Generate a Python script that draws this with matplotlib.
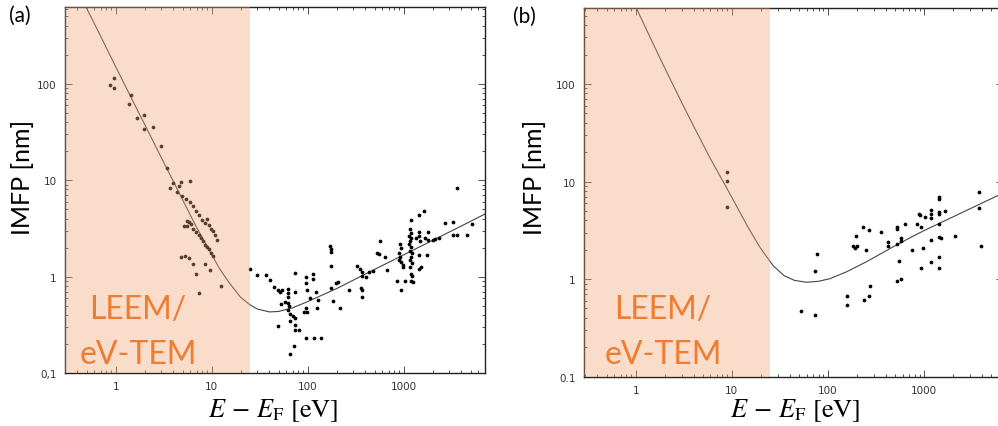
import matplotlib.pyplot as plt
from matplotlib.ticker import FixedLocator, FixedFormatter, LogLocator, NullFormatter

# ---- data ----
# panel (a): elements
curve_a_E = [0.45, 0.6, 0.8, 1, 1.5, 2, 3, 5, 7, 10, 12, 15, 20, 25, 30, 40, 50, 70,
             100, 150, 200, 300, 500, 1000, 2000, 4000, 7500]
curve_a_L = [740, 420, 235, 150, 67, 38, 17, 6.2, 3.2, 1.7, 1.22, 0.88, 0.61, 0.51, 0.46,
             0.43, 0.435, 0.475, 0.55, 0.66, 0.75, 0.92, 1.19, 1.68, 2.37, 3.35, 4.6]

pts_a_E = [0.96, 0.87, 0.97, 1.45, 1.36, 1.96, 1.67, 1.97, 2.47, 2.94, 3.4, 3.95, 3.65,
           4.53, 4.82, 5.9,
           4.39, 4.9, 5.4, 5.94, 6.44, 6.87, 7.4, 7.9, 8.45, 9.0, 9.3, 9.77, 10.2, 10.7, 11.4,
           5.5, 5.76, 6.13, 5.15, 5.5, 6.44, 6.87, 7.33, 7.8, 8.18, 8.58, 9.0, 9.44, 9.9, 10.4,
           4.82, 5.31, 5.85, 6.34, 8.58, 9.6, 6.81, 12.4, 7.4,
           24.9, 29.6, 36.5, 40.8, 44.9, 49.4, 51.8, 54.4, 62.8, 62.8, 73.8, 73.8, 61.7, 58,
           52.7, 62.8, 63.8, 62.8, 65.9, 70.3, 73.8, 64.9, 49.4, 73.8, 73.8, 81.1, 95.3, 115,
           138, 71.5, 64.9, 95.3, 113.6, 113.6, 95.3, 98.4, 123, 106, 95.3, 98.4, 92.2, 125,
           127, 172, 175, 175, 175, 175, 183, 195, 205, 217, 269, 324, 351, 365, 371, 359,
           365, 365, 402, 435, 479,
           566, 531, 557, 643, 665, 859, 1024, 945, 915, 929, 887, 915, 902, 945, 977, 991,
           1164, 1183, 1144, 1203, 1164, 1127, 1183, 1164, 1222, 1183, 1164, 1222, 1164, 1183,
           1222, 1183, 1259, 1203, 1433, 1626, 1455, 1455, 1343, 1479, 1679, 1791, 1791, 1433,
           1762, 1503, 1433, 2004, 2133, 2316, 2716, 3240, 3290, 3616, 4600, 5145, 3565]
pts_a_L = [114, 98, 89.6, 75.8, 62, 47, 43.7, 34.2, 35.8, 22.4, 13.5, 9.4, 8.3,
           8.6, 9.5, 9.9,
           7.58, 6.9, 6.4, 5.97, 5.37, 4.81, 4.3, 3.84, 3.61, 3.98, 3.39, 3.15, 2.95, 2.71, 2.42,
           3.75, 3.66, 3.55, 3.38, 3.33, 3.13, 2.93, 2.73, 2.52, 2.33, 2.15, 2.03, 1.91, 1.76, 1.65,
           1.6, 1.65, 1.55, 1.36, 1.36, 1.16, 1.07, 0.79, 0.68,
           1.2, 1.04, 1.04, 0.93, 0.78, 0.73, 0.69, 0.72, 0.745, 0.68, 0.69, 1.09, 0.615, 0.55,
           0.52, 0.533, 0.49, 0.447, 0.413, 0.394, 0.369, 0.347, 0.31, 0.318, 0.28, 0.277, 0.23, 0.23,
           0.23, 0.189, 0.157, 1.0, 1.07, 0.95, 0.85, 0.72, 0.69, 0.605, 0.47, 0.426, 0.426, 0.47,
           0.577, 2.06, 1.94, 1.79, 1.28, 0.76, 0.563, 0.86, 0.88, 0.47, 0.73, 1.3, 1.2, 1.11, 1.02, 0.76,
           0.72, 0.62, 1.0, 1.11, 1.15,
           2.33, 1.76, 1.73, 1.6, 1.18, 0.89, 0.89, 0.72, 2.2, 1.97, 1.76, 1.6, 1.48, 1.41, 1.32, 1.26,
           3.08, 2.84, 2.62, 2.5, 2.35, 2.2, 2.03, 1.85, 1.76, 1.6, 1.48, 1.39, 1.26, 1.07,
           1.02, 0.89, 0.87, 3.9, 4.37, 4.81, 2.88, 2.62, 2.52, 2.33, 2.52, 2.88, 2.38, 1.68,
           1.69, 1.26, 1.2, 2.42, 2.46, 2.52, 3.61, 3.72, 2.71, 2.67, 2.71, 3.55, 8.34]

# panel (b): inorganic compounds
curve_b_E = [0.97, 1.5, 2, 3, 4.3, 6, 8.85, 12, 15, 20, 27, 35, 45, 60, 80, 105, 157,
             250, 348, 540, 774, 1000, 1422, 2000, 3000, 4000, 5900, 7000]
curve_b_L = [660, 265, 147, 65, 32.3, 17.1, 8.6, 4.95, 3.31, 2.06, 1.37, 1.085, 0.97,
             0.928, 0.95, 1.01, 1.19, 1.5, 1.8, 2.29, 2.76, 3.14, 3.7, 4.34, 5.25, 6.0,
             7.2, 7.8]

pts_b_E = [8.85, 8.85, 8.85,
           76.4, 74, 52, 74, 196, 233, 266, 184, 193, 199, 249, 159, 157, 274, 270, 237,
           359, 422, 422, 528, 520, 528, 572, 572, 630, 839, 881, 909, 750, 545, 572, 520,
           938, 1016, 984, 938, 1191, 1191, 1191, 1191, 1191, 1422, 1422, 1422, 1422, 1422,
           1422, 1492, 1422, 1422, 1667, 2086, 3707, 3707, 3948]
pts_b_L = [12.4, 10.2, 5.5,
           1.79, 1.2, 0.474, 0.43, 2.78, 3.39, 3.18, 2.17, 2.1, 2.17, 1.98, 0.665, 0.546, 0.85,
           0.676, 0.605, 3.05, 2.41, 2.19, 2.28, 3.25, 3.39, 2.65, 2.47, 3.69, 3.69, 4.67, 4.5,
           1.98, 1.52, 1.01, 0.955,
           3.39, 4.35, 2.09, 1.29, 5.13, 4.6, 4.19, 2.49, 1.48, 6.87, 6.6, 4.9, 4.6, 3.67,
           2.67, 2.61, 1.67, 1.3, 4.93, 2.78, 7.76, 5.4, 2.19]

x_ticks = [1, 10, 100, 1000]
x_tick_labels = ['1', '10', '100', '1000']
y_ticks = [0.1, 1, 10, 100]
y_labels_a = ['0,1', '1', '10', '100']
y_labels_b = ['0.1', '1', '10', '100']
leem_edge = 25  # eV, right edge of the shaded LEEM range

W, H = 998, 427
orange = '#ED7D31'

fig = plt.figure(figsize=(W / 100, H / 100), dpi=100)


def px_box(left, top, right, bottom):
    return [left / W, 1 - bottom / H, (right - left) / W, (bottom - top) / H]


def make_panel(rect, xlim, ylim, curve_E, curve_L, pts_E, pts_L, ylabels):
    ax = fig.add_axes(rect)
    ax.set_xscale('log')
    ax.set_yscale('log')
    ax.set_xlim(*xlim)
    ax.set_ylim(*ylim)
    ax.plot(curve_E, curve_L, color='#444444', lw=0.8, zorder=2)
    ax.plot(pts_E, pts_L, 'o', color='black', ms=2.7, mew=0, zorder=2)
    ax.axvspan(xlim[0], leem_edge, color='#F3A378', alpha=0.38, lw=0, zorder=3)
    ax.xaxis.set_major_locator(FixedLocator(x_ticks))
    ax.xaxis.set_major_formatter(FixedFormatter(x_tick_labels))
    ax.yaxis.set_major_locator(FixedLocator(y_ticks))
    ax.yaxis.set_major_formatter(FixedFormatter(ylabels))
    for axis in (ax.xaxis, ax.yaxis):
        axis.set_minor_locator(LogLocator(base=10, subs=range(2, 10)))
        axis.set_minor_formatter(NullFormatter())
    ax.tick_params(which='both', direction='in', top=True, right=True,
                   width=0.6, colors='#333333', labelsize=7.5)
    ax.tick_params(which='major', length=5, pad=6)
    ax.tick_params(which='minor', length=2.5)
    for s in ax.spines.values():
        s.set_linewidth(1.0)
        s.set_color('#222222')
    return ax


ax_a = make_panel(px_box(65, 8.3, 485, 374), (0.2965, 7030), (0.1, 620),
                  curve_a_E, curve_a_L, pts_a_E, pts_a_L, y_labels_a)
ax_b = make_panel(px_box(584, 9, 1003, 377.7), (0.29, 6640), (0.1, 600),
                  curve_b_E, curve_b_L, pts_b_E, pts_b_L, y_labels_b)


def ftext(x, y, s, **kw):
    fig.text(x / W, 1 - y / H, s, **kw)


# panel letters
ftext(9, 16, '(a)', fontsize=15, family='Lato', va='center', ha='left')
ftext(513, 17, '(b)', fontsize=15, family='Lato', va='center', ha='left')

# axis labels
ftext(23, 177, 'IMFP [nm]', fontsize=18, family='Lato', rotation=90, va='center', ha='center')
ftext(534, 177, 'IMFP [nm]', fontsize=18, family='Lato', rotation=90, va='center', ha='center')
plt.rcParams['mathtext.fontset'] = 'stix'
ftext(273, 411, r'$E\,-\,E_\mathrm{F}$ [eV]', fontsize=19, family='STIXGeneral',
      va='center', ha='center')
ftext(795, 411, r'$E\,-\,E_\mathrm{F}$ [eV]', fontsize=19, family='STIXGeneral',
      va='center', ha='center')

# LEEM labels
for cx in (138, 663):
    ftext(cx, 310, 'LEEM/', fontsize=23, family='Lato', color=orange, va='center', ha='center')
    ftext(cx, 355, 'eV-TEM', fontsize=23, family='Lato', color=orange, va='center', ha='center')

fig.savefig('out.png', dpi=100)
